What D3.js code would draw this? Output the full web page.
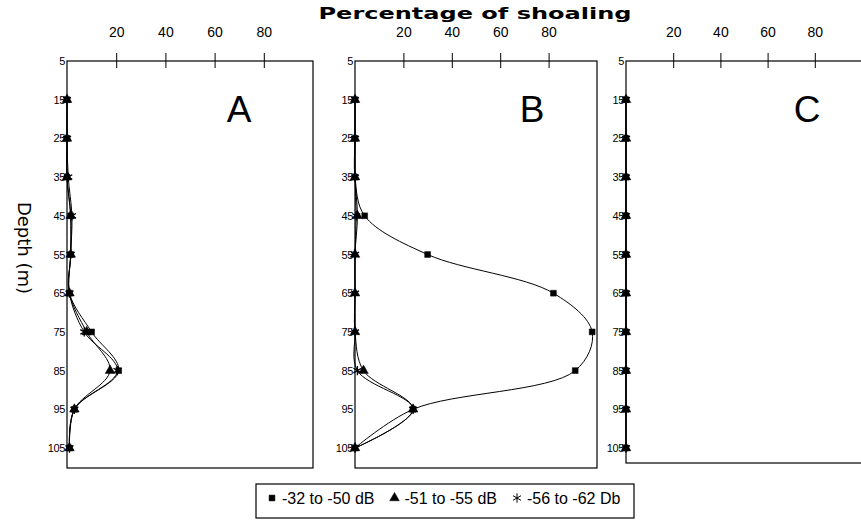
<!DOCTYPE html>
<html>
<head>
<meta charset="utf-8">
<script src="https://cdn.jsdelivr.net/npm/d3@7"></script>
<style>
  body { margin: 0; background: #fff; }
  svg { font-family: "Liberation Sans", Arial, sans-serif; }
  .frame { fill: none; stroke: #000; stroke-width: 1.2; }
  .curve { fill: none; stroke: #000; stroke-width: 1; }
</style>
</head>
<body>
<div class="chart"></div>
<script>
// depth of each sample (m) and axis ticks
var depths = [15, 25, 35, 45, 55, 65, 75, 85, 95, 105];
var depth_ticks = [5, 15, 25, 35, 45, 55, 65, 75, 85, 95, 105];
var pct_ticks = [20, 40, 60, 80];
var series_names = ['-32 to -50 dB', '-51 to -55 dB', '-56 to -62 Db'];

// percentage of shoaling per depth, panel A
var a_strong = [0, 0, 0, 1.5, 1.5, 1, 10, 21, 3, 1];
var a_mid    = [0, 0, 0, 1.5, 1.5, 1, 8, 17.5, 3, 1];
var a_weak   = [0, 0, 0.5, 2, 1.5, 1, 7, 20.5, 3, 1];

// panel B
var b_strong = [0, 0, 0, 4, 30, 82, 98, 91, 24, 0];
var b_mid    = [0, 0, 0, 1, 0, 0, 0, 3.5, 24, 0];
var b_weak   = [0, 0, 0, 0.5, 0, 0, 0, 1, 24, 0];

// panel C
var c_strong = [0, 0, 0, 0, 0, 0, 0, 0, 0, 0];
var c_mid    = [0, 0, 0, 0, 0, 0, 0, 0, 0, 0];
var c_weak   = [0, 0, 0, 0, 0, 0, 0, 0, 0, 0];

function draw_chart() {
  var w = 861, h = 524,
      top = 61,
      depth_bottom = 448;

  var panels = [
    {name: 'A', left: 67,  right: 313, bottom: 468, letter_x: 239, series: [a_strong, a_mid, a_weak]},
    {name: 'B', left: 355, right: 597, bottom: 468, letter_x: 532, series: [b_strong, b_mid, b_weak]},
    {name: 'C', left: 626, right: 862, bottom: 463, letter_x: 807, series: [c_strong, c_mid, c_weak]}
  ];

  var symbols = [
    d3.symbol().type(d3.symbolSquare).size(34),
    d3.symbol().type(d3.symbolTriangle).size(40),
    d3.symbol().type(d3.symbolAsterisk).size(60)
  ];
  var symbol_stroke = [false, false, true];

  var svg = d3.select('.chart')
    .append('svg')
    .attr('width', w)
    .attr('height', h);

  var y = d3.scaleLinear().domain([5, 105]).range([top, depth_bottom]);

  panels.forEach(function(p) {
    var x = d3.scaleLinear().domain([0, 100]).range([p.left, p.right]);
    var g = svg.append('g');

    g.append('rect')
      .attr('class', 'frame')
      .attr('x', p.left)
      .attr('y', top)
      .attr('width', p.right - p.left)
      .attr('height', p.bottom - top);

    var top_axis = g.append('g')
      .attr('transform', 'translate(0,' + top + ')')
      .call(d3.axisTop(x).tickValues(pct_ticks).tickSizeOuter(0).tickSizeInner(8).tickPadding(16));
    top_axis.select('.domain').remove();
    top_axis.selectAll('.tick line').attr('y1', 7).attr('stroke-width', 1);
    top_axis.selectAll('.tick text')
      .attr('font-size', 14)
      .attr('font-family', '"Liberation Sans", Arial, sans-serif');

    var left_axis = g.append('g')
      .attr('transform', 'translate(' + p.left + ',0)')
      .call(d3.axisLeft(y).tickValues(depth_ticks).tickSize(0).tickPadding(2));
    left_axis.select('.domain').remove();
    left_axis.selectAll('.tick text')
      .attr('font-size', 11)
      .attr('letter-spacing', -0.4)
      .attr('font-family', '"Liberation Sans", Arial, sans-serif');

    var line = d3.line()
      .x(function(d) { return x(d.v); })
      .y(function(d) { return y(d.depth); })
      .curve(d3.curveCatmullRom.alpha(0.5));

    p.series.forEach(function(vals, i) {
      var pts = depths.map(function(dp, k) { return {depth: dp, v: vals[k]}; });
      g.append('path')
        .datum(pts)
        .attr('class', 'curve')
        .attr('d', line);
      g.selectAll('.mk' + i)
        .data(pts)
        .enter()
        .append('path')
        .attr('class', 'mk' + i)
        .attr('transform', function(d) { return 'translate(' + x(d.v) + ',' + y(d.depth) + ')'; })
        .attr('d', symbols[i])
        .attr('fill', symbol_stroke[i] ? 'none' : '#000')
        .attr('stroke', '#000')
        .attr('stroke-width', symbol_stroke[i] ? 1.3 : 0.5);
    });

    g.append('text')
      .attr('x', p.letter_x)
      .attr('y', 122)
      .attr('text-anchor', 'middle')
      .attr('font-size', 37)
      .text(p.name);
  });

  svg.append('text')
    .attr('x', 475)
    .attr('y', 19)
    .attr('text-anchor', 'middle')
    .attr('font-family', '"DejaVu Sans", sans-serif')
    .attr('font-weight', 'bold')
    .attr('font-size', 16)
    .attr('textLength', 313)
    .attr('lengthAdjust', 'spacingAndGlyphs')
    .text('Percentage of shoaling');

  svg.append('text')
    .attr('transform', 'translate(18,248) rotate(90)')
    .attr('text-anchor', 'middle')
    .attr('font-family', '"DejaVu Sans", sans-serif')
    .attr('font-size', 18)
    .text('Depth (m)');

  // legend
  var legend = svg.append('g');
  legend.append('rect')
    .attr('class', 'frame')
    .attr('x', 256)
    .attr('y', 484)
    .attr('width', 378)
    .attr('height', 34);

  var lx = 272;
  series_names.forEach(function(name, i) {
    legend.append('path')
      .attr('transform', 'translate(' + lx + ',498)')
      .attr('d', symbols[i])
      .attr('fill', symbol_stroke[i] ? 'none' : '#000')
      .attr('stroke', '#000')
      .attr('stroke-width', symbol_stroke[i] ? 1 : 0.5);
    var t = legend.append('text')
      .attr('x', lx + 10)
      .attr('y', 504)
      .attr('font-size', 16)
      .text(name);
    lx += 10 + t.node().getComputedTextLength() + 20;
  });
}

draw_chart();
</script>
</body>
</html>
